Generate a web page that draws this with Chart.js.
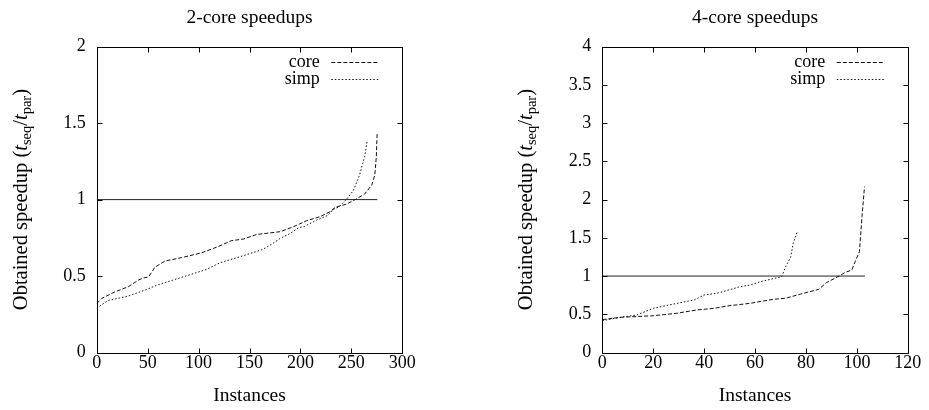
<!DOCTYPE html>
<html><head><meta charset="utf-8">
<script src="https://cdn.jsdelivr.net/npm/chart.js@4.4.0/dist/chart.umd.min.js"></script>
<style>
html,body{margin:0;padding:0;background:#fff;}
#wrap{position:relative;width:929px;height:410px;overflow:hidden;background:#fff;}
canvas{position:absolute;top:0;}
</style></head><body>
<div id="wrap">
<canvas id="c1" width="464" height="410" style="left:0px"></canvas>
<canvas id="c2" width="465" height="410" style="left:464px"></canvas>
</div>
<script>
// ---------- data ----------
const titles = ['2-core speedups', '4-core speedups'];
const xAxisTitle = 'Instances';
const seriesNames = ['core', 'simp'];
const yLabelParts = [
  {text: 'Obtained speedup (', style: 'normal'},
  {text: 't', style: 'italic'},
  {text: 'seq', style: 'sub'},
  {text: '/', style: 'normal'},
  {text: 't', style: 'italic'},
  {text: 'par', style: 'sub'},
  {text: ')', style: 'normal'}
];

// 2-core chart
const left_xTicks = [0, 50, 100, 150, 200, 250, 300];
const left_yTicks = [0, 0.5, 1, 1.5, 2];
const left_coreX = [0, 5, 18, 31, 41, 46, 51, 57, 67, 83, 103, 119, 132, 144, 157, 180, 193, 206, 219, 229, 234, 245, 253, 263, 270, 273, 274.5, 275.3];
const left_coreY = [0.32, 0.354, 0.397, 0.43, 0.474, 0.487, 0.495, 0.557, 0.598, 0.62, 0.652, 0.692, 0.731, 0.742, 0.772, 0.79, 0.822, 0.862, 0.888, 0.92, 0.949, 0.97, 0.997, 1.036, 1.095, 1.16, 1.28, 1.44];
const left_simpX = [0, 11, 31, 47, 59, 75, 96, 108, 121, 140, 163, 172, 180, 190, 198, 204, 216, 227, 232, 238, 245, 252, 258, 263, 265.7];
const left_simpY = [0.29, 0.34, 0.369, 0.407, 0.44, 0.474, 0.518, 0.544, 0.587, 0.625, 0.674, 0.709, 0.746, 0.779, 0.815, 0.825, 0.866, 0.897, 0.935, 0.953, 1.0, 1.06, 1.16, 1.28, 1.39];
const left_refX = [0, 275.5];
const left_refY = [1, 1];

// 4-core chart
const right_xTicks = [0, 20, 40, 60, 80, 100, 120];
const right_yTicks = [0, 0.5, 1, 1.5, 2, 2.5, 3, 3.5, 4];
const right_coreX = [0, 7, 20, 29, 37, 44, 49, 58, 67, 72, 78, 85, 88, 93, 95.4, 98, 99.3, 101, 102, 103];
const right_coreY = [0.43, 0.46, 0.481, 0.512, 0.556, 0.578, 0.608, 0.643, 0.695, 0.71, 0.765, 0.826, 0.913, 1.0, 1.048, 1.078, 1.187, 1.318, 1.775, 2.17];
const right_simpX = [0, 7, 13.5, 20, 28, 36, 40, 45, 54, 58, 62, 70.5, 72, 74, 75, 76.6];
const right_simpY = [0.416, 0.46, 0.49, 0.578, 0.634, 0.686, 0.752, 0.774, 0.86, 0.882, 0.926, 0.991, 1.12, 1.25, 1.43, 1.58];
const right_refX = [0, 103.2];
const right_refY = [1, 1];

// ---------- rendering ----------
const FONT = '"Liberation Serif", "DejaVu Serif", serif';
const FS = 18;      // tick labels, legend
const FT = 19.5;    // titles
const FY = 20.5;    // y-axis label
const toPts = (xs, ys) => xs.map((x, i) => ({x: x, y: ys[i]}));

const gnuFrame = {
  id: 'gnuFrame',
  afterDraw(chart, args, opts) {
    const ctx = chart.ctx, a = chart.chartArea;
    const xs = chart.scales.x, ys = chart.scales.y;
    ctx.save();
    ctx.strokeStyle = '#000';
    ctx.lineWidth = 1;
    const L = Math.round(a.left) + 0.5, R = Math.round(a.right) + 0.5;
    const T = Math.round(a.top) + 0.5, B = Math.round(a.bottom) + 0.5;
    ctx.beginPath();
    ctx.rect(L, T, R - L, B - T);
    const tl = 5;
    xs.ticks.forEach(t => {
      const p = Math.round(xs.getPixelForValue(t.value)) + 0.5;
      ctx.moveTo(p, B); ctx.lineTo(p, B - tl);
      ctx.moveTo(p, T); ctx.lineTo(p, T + tl);
    });
    ys.ticks.forEach(t => {
      const p = Math.round(ys.getPixelForValue(t.value)) + 0.5;
      ctx.moveTo(L, p); ctx.lineTo(L + tl, p);
      ctx.moveTo(R, p); ctx.lineTo(R - tl, p);
    });
    ctx.stroke();

    // legend (text then line sample, gnuplot style)
    ctx.font = FS + 'px ' + FONT;
    ctx.fillStyle = '#000';
    ctx.textAlign = 'right';
    ctx.textBaseline = 'middle';
    let row = 0;
    chart.data.datasets.forEach(ds => {
      if (ds.isRef) return;
      const y = Math.round(a.top + 15 + row * 17.5) + 0.5;
      ctx.fillText(ds.label, a.right - 82.5, y);
      ctx.save();
      ctx.strokeStyle = ds.borderColor;
      ctx.lineWidth = ds.borderWidth;
      ctx.setLineDash(ds.borderDash || []);
      ctx.beginPath();
      ctx.moveTo(a.right - 71, y);
      ctx.lineTo(a.right - 24, y);
      ctx.stroke();
      ctx.restore();
      row++;
    });

    // rotated y-axis label with subscripts
    const cx = opts.yLabelX, cy = (a.top + a.bottom) / 2;
    const fontOf = s => s === 'italic' ? 'italic ' + FY + 'px ' + FONT : (s === 'sub' ? '14.5px ' + FONT : FY + 'px ' + FONT);
    let total = 0;
    yLabelParts.forEach(p => { ctx.font = fontOf(p.style); total += ctx.measureText(p.text).width; });
    ctx.translate(cx, cy);
    ctx.rotate(-Math.PI / 2);
    ctx.textAlign = 'left';
    ctx.textBaseline = 'alphabetic';
    let x = -total / 2;
    const base = 6.5;
    yLabelParts.forEach(p => {
      ctx.font = fontOf(p.style);
      ctx.fillText(p.text, x, base + (p.style === 'sub' ? 4 : 0));
      x += ctx.measureText(p.text).width;
    });
    ctx.restore();
  }
};

function makeChart(id, cfg) {
  const lineDs = (label, pts, dash) => ({
    label: label, data: pts, borderColor: '#111', borderWidth: 1,
    borderDash: dash, pointRadius: 0, tension: 0, fill: false
  });
  return new Chart(document.getElementById(id), {
    type: 'line',
    data: {
      datasets: [
        lineDs(seriesNames[0], toPts(cfg.coreX, cfg.coreY), [4, 2]),
        lineDs(seriesNames[1], toPts(cfg.simpX, cfg.simpY), [1.5, 2]),
        Object.assign(lineDs('y=1', toPts(cfg.refX, cfg.refY), []), {isRef: true, borderColor: '#222'})
      ]
    },
    options: {
      responsive: false,
      devicePixelRatio: 1,
      animation: false,
      events: [],
      layout: {padding: {left: 0, right: cfg.padRight, top: 0, bottom: 0}},
      plugins: {
        legend: {display: false},
        tooltip: {enabled: false},
        title: {
          display: true, text: cfg.title, fullSize: false, color: '#000',
          font: {family: FONT, size: FT, weight: 'normal'},
          padding: {top: 6.3, bottom: 17}
        },
        gnuFrame: {yLabelX: cfg.yLabelX}
      },
      scales: {
        x: {
          type: 'linear', min: cfg.xTicks[0], max: cfg.xTicks[cfg.xTicks.length - 1],
          afterBuildTicks: s => { s.ticks = cfg.xTicks.map(v => ({value: v})); },
          afterFit: s => { s.height = 57.5; },
          grid: {display: false, drawTicks: false},
          border: {display: false},
          ticks: {color: '#000', font: {family: FONT, size: FS}, padding: 0, maxRotation: 0, callback: v => String(v)},
          title: {display: true, text: xAxisTitle, color: '#000', font: {family: FONT, size: FT}, padding: {top: 0, bottom: 2}}
        },
        y: {
          type: 'linear', min: cfg.yTicks[0], max: cfg.yTicks[cfg.yTicks.length - 1],
          afterBuildTicks: s => { s.ticks = cfg.yTicks.map(v => ({value: v})); },
          afterFit: s => { s.width = cfg.yWidth; },
          grid: {display: false, drawTicks: false},
          border: {display: false},
          ticks: {color: '#000', font: {family: FONT, size: FS}, padding: 11, callback: v => String(v)}
        }
      }
    },
    plugins: [gnuFrame]
  });
}

makeChart('c1', {
  title: titles[0], xTicks: left_xTicks, yTicks: left_yTicks,
  coreX: left_coreX, coreY: left_coreY, simpX: left_simpX, simpY: left_simpY,
  refX: left_refX, refY: left_refY,
  padRight: 61.7, yWidth: 96.7, yLabelX: 20
});
makeChart('c2', {
  title: titles[1], xTicks: right_xTicks, yTicks: right_yTicks,
  coreX: right_coreX, coreY: right_coreY, simpX: right_simpX, simpY: right_simpY,
  refX: right_refX, refY: right_refY,
  padRight: 21.2, yWidth: 138.3, yLabelX: 61
});
</script>
</body></html>
